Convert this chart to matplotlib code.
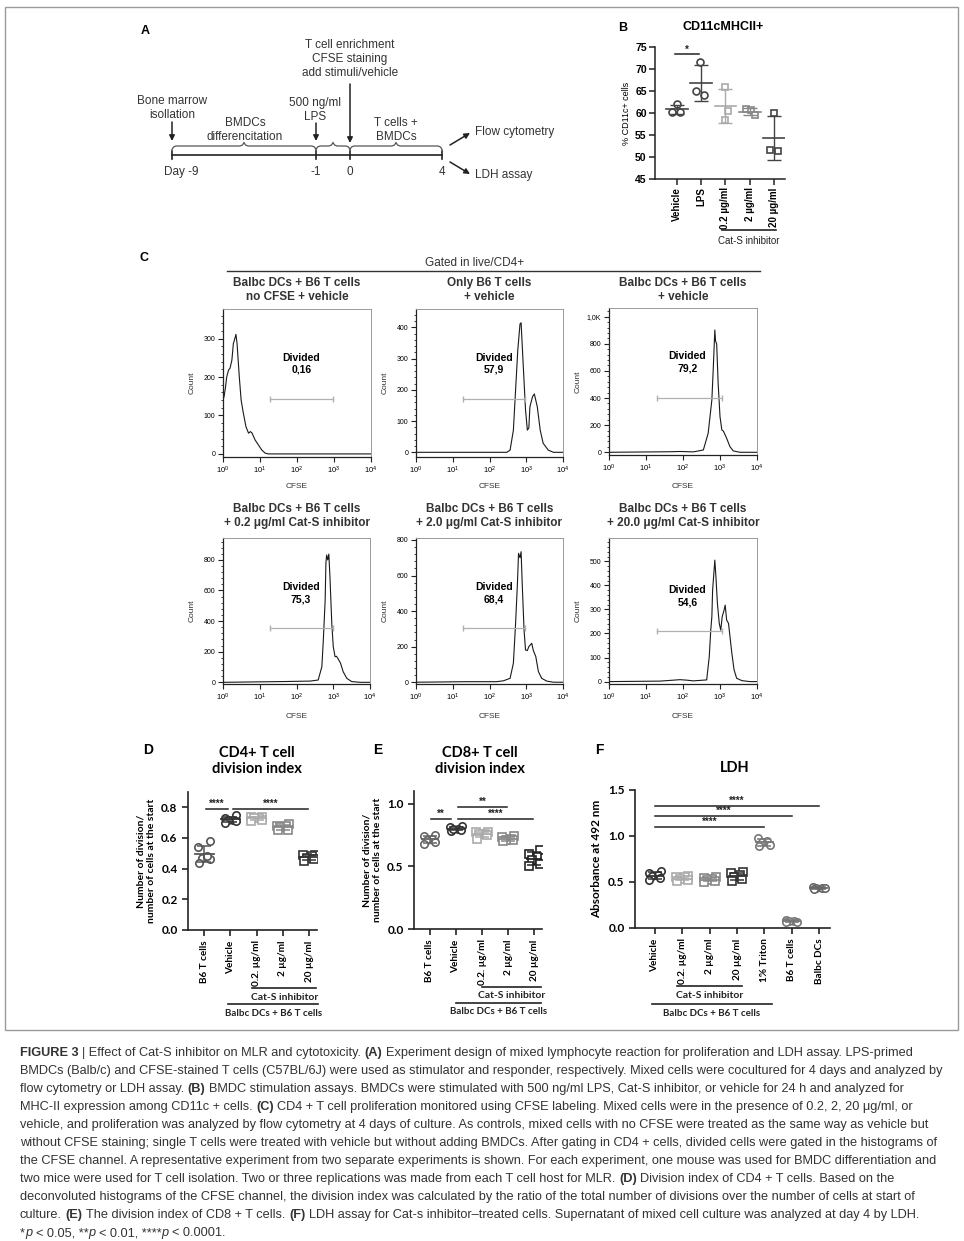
import re
import numpy as np
import matplotlib
matplotlib.use("Agg")
import matplotlib.pyplot as plt
import matplotlib.transforms as mtrans
from matplotlib import font_manager
from matplotlib.ticker import AutoMinorLocator, LogLocator, NullFormatter

plt.rcParams['font.family'] = ['Liberation Sans', 'DejaVu Sans']
plt.rcParams['mathtext.fontset'] = 'custom'
plt.rcParams['mathtext.rm'] = 'Liberation Sans'
plt.rcParams['mathtext.it'] = 'Liberation Sans:italic'
plt.rcParams['mathtext.bf'] = 'Liberation Sans:bold'

W, H = 964, 1241
INK = '#222222'
GP = ['Lato', 'DejaVu Sans']   # GraphPad panels D-F

# ---------------- data ----------------
# A: timeline
day_labels = ['Day -9', '-1', '0', '4']

# B: % CD11c+ cells (3 replicates)
b_groups = ['Vehicle', 'LPS', '0.2 µg/ml', '2 µg/ml', '20 µg/ml']
b_values = [[62.0, 60.3, 60.2],
            [71.5, 65.0, 64.0],
            [66.0, 60.5, 58.3],
            [60.8, 60.7, 59.5],
            [60.0, 51.5, 51.3]]

# C: CFSE histograms (log10 CFSE, count)
h1_log = [0.0, 0.03, 0.07, 0.10, 0.15, 0.19, 0.24, 0.28, 0.32, 0.35, 0.38, 0.44, 0.49,
          0.55, 0.62, 0.69, 0.74, 0.78, 0.87, 0.96, 1.05, 1.14, 1.23, 4.0]
h1_cnt = [140, 150, 175, 200, 218, 223, 244, 287, 300, 311, 287, 201, 140,
          106, 71, 54, 58, 55, 36, 23, 10, 2, 0, 0]
h2_log = [0.0, 2.47, 2.56, 2.65, 2.71, 2.77, 2.83, 2.86, 2.92, 2.98, 3.03, 3.07, 3.10,
          3.17, 3.22, 3.30, 3.38, 3.46, 3.60, 3.74, 4.0]
h2_cnt = [0, 0, 7, 71, 200, 328, 411, 415, 274, 136, 71, 78, 146,
          178, 187, 146, 71, 29, 7, 0, 0]
h3_log = [0.0, 1.65, 1.92, 2.28, 2.55, 2.68, 2.78, 2.82, 2.86, 2.88, 2.91, 2.95, 3.00,
          3.05, 3.09, 3.18, 3.27, 3.36, 3.54, 4.0]
h3_cnt = [0, 4, 6, 3, 17, 140, 386, 631, 902, 820, 800, 509, 263,
          164, 157, 103, 41, 10, 0, 0]
h4_log = [0.0, 1.64, 2.37, 2.59, 2.69, 2.73, 2.78, 2.80, 2.82, 2.85, 2.88, 2.91, 2.96,
          3.00, 3.05, 3.09, 3.14, 3.20, 3.27, 3.37, 3.50, 3.73, 4.0]
h4_cnt = [0, 5, 8, 15, 102, 276, 538, 778, 832, 800, 838, 690, 386,
          233, 167, 170, 150, 124, 69, 26, 5, 0, 0]
h5_log = [0.0, 1.38, 2.19, 2.38, 2.56, 2.65, 2.71, 2.76, 2.79, 2.83, 2.86, 2.89, 2.94,
          2.98, 3.03, 3.07, 3.15, 3.19, 3.26, 3.33, 3.42, 3.56, 3.74, 4.0]
h5_cnt = [0, 3, 3, 8, 22, 107, 331, 556, 725, 700, 734, 556, 294,
          181, 178, 200, 219, 180, 144, 60, 22, 6, 0, 0]
h6_log = [0.0, 1.38, 1.65, 1.92, 2.10, 2.28, 2.46, 2.64, 2.71, 2.75, 2.78, 2.80, 2.84,
          2.86, 2.89, 2.93, 2.98, 3.02, 3.06, 3.11, 3.14, 3.18, 3.23, 3.27, 3.32, 3.38,
          3.45, 3.59, 3.81, 4.0]
h6_cnt = [0, 2, 5, 8, 6, 3, 5, 7, 104, 214, 270, 380, 463,
          505, 436, 325, 242, 214, 270, 297, 318, 256, 242, 187, 118, 49,
          14, 4, 0, 0]
h_titles = ['Balbc DCs + B6 T cells\nno CFSE + vehicle', 'Only B6 T cells\n+ vehicle',
            'Balbc DCs + B6 T cells\n+ vehicle',
            'Balbc DCs + B6 T cells\n+ 0.2 μg/ml Cat-S inhibitor',
            'Balbc DCs + B6 T cells\n+ 2.0 μg/ml Cat-S inhibitor',
            'Balbc DCs + B6 T cells\n+ 20.0 μg/ml Cat-S inhibitor']
h_divided = ['0,16', '57,9', '79,2', '75,3', '68,4', '54,6']
gate_lo = [1.28, 1.29, 1.29, 1.28, 1.29, 1.29]
gate_hi = [2.98, 2.97, 3.06, 2.98, 2.97, 3.05]
gate_y = [143, 171, 403, 357, 307, 210]

# D, E: division index (6 replicates)
de_groups = ['B6 T cells', 'Vehicle', '0.2. µg/ml', '2 µg/ml', '20 µg/ml']
d_values = [[0.58, 0.54, 0.47, 0.46, 0.44, 0.48],
            [0.75, 0.73, 0.72, 0.72, 0.71, 0.70],
            [0.74, 0.74, 0.73, 0.73, 0.72, 0.71],
            [0.69, 0.68, 0.68, 0.67, 0.65, 0.65],
            [0.49, 0.49, 0.48, 0.47, 0.46, 0.45]]
e_values = [[0.75, 0.74, 0.72, 0.71, 0.69, 0.68],
            [0.82, 0.81, 0.80, 0.79, 0.78, 0.80],
            [0.77, 0.77, 0.76, 0.76, 0.72, 0.75],
            [0.74, 0.73, 0.72, 0.71, 0.71, 0.70],
            [0.63, 0.60, 0.57, 0.55, 0.52, 0.50]]

# F: LDH absorbance
f_groups = ['Vehicle', '0.2. µg/ml', '2 µg/ml', '20 µg/ml', '1% Triton', 'B6 T cells', 'Balbc DCs']
f_values = [[0.62, 0.60, 0.58, 0.56, 0.54, 0.52],
            [0.56, 0.55, 0.55, 0.53, 0.52, 0.51],
            [0.55, 0.54, 0.53, 0.52, 0.51, 0.50],
            [0.61, 0.60, 0.58, 0.55, 0.53, 0.51],
            [0.98, 0.95, 0.93, 0.90, 0.89],
            [0.09, 0.08, 0.08, 0.07, 0.07],
            [0.45, 0.44, 0.43, 0.43, 0.42]]

caption = [
    "§FIGURE 3§ | Effect of Cat-S inhibitor on MLR and cytotoxicity. §(A)§ Experiment design of mixed lymphocyte reaction for proliferation and LDH assay. LPS-primed",
    "BMDCs (Balb/c) and CFSE-stained T cells (C57BL/6J) were used as stimulator and responder, respectively. Mixed cells were cocultured for 4 days and analyzed by",
    "flow cytometry or LDH assay. §(B)§ BMDC stimulation assays. BMDCs were stimulated with 500 ng/ml LPS, Cat-S inhibitor, or vehicle for 24 h and analyzed for",
    "MHC-II expression among CD11c + cells. §(C)§ CD4 + T cell proliferation monitored using CFSE labeling. Mixed cells were in the presence of 0.2, 2, 20 μg/ml, or",
    "vehicle, and proliferation was analyzed by flow cytometry at 4 days of culture. As controls, mixed cells with no CFSE were treated as the same way as vehicle but",
    "without CFSE staining; single T cells were treated with vehicle but without adding BMDCs. After gating in CD4 + cells, divided cells were gated in the histograms of",
    "the CFSE channel. A representative experiment from two separate experiments is shown. For each experiment, one mouse was used for BMDC differentiation and",
    "two mice were used for T cell isolation. Two or three replications was made from each T cell host for MLR. §(D)§ Division index of CD4 + T cells. Based on the",
    "deconvoluted histograms of the CFSE channel, the division index was calculated by the ratio of the total number of divisions over the number of cells at start of",
    "culture. §(E)§ The division index of CD8 + T cells. §(F)§ LDH assay for Cat-s inhibitor–treated cells. Supernatant of mixed cell culture was analyzed at day 4 by LDH.",
    "*~p~ < 0.05, **~p~ < 0.01, ****~p~ < 0.0001.",
]

# ---------------- helpers ----------------
fig = plt.figure(figsize=(W / 100, H / 100), dpi=100)


def ax_px(l, t, r, b):
    return fig.add_axes([l / W, 1 - b / H, (r - l) / W, (b - t) / H])


def ftext(x, y, s, **kw):
    return fig.text(x / W, 1 - y / H, s, **kw)


def below(ax, x0, x1, y, text, ty, fam, size):
    tr = mtrans.blended_transform_factory(ax.transData, fig.transFigure)
    ax.plot([x0, x1], [1 - y / H] * 2, color=INK, lw=1.2, transform=tr, clip_on=False)
    ax.text((x0 + x1) / 2, 1 - ty / H, text, transform=tr, ha='center', va='center',
            fontsize=size, family=fam, weight='bold' if fam == GP else 'normal', color=INK)


def dot_panel(ax, values, colors, markers, ms, halfw, cap):
    spread = [-0.2, 0.2, -0.1, 0.1, -0.22, 0.22]
    for i, vals in enumerate(values):
        v = np.asarray(vals)
        order = np.argsort(v)
        xs = np.empty(len(v))
        for k, j in enumerate(order):
            xs[j] = i + spread[k % len(spread)]
        ax.plot(xs, v, linestyle='none', marker=markers[i], ms=ms, mfc='white',
                mec=colors[i], mew=1.2, zorder=3)
        m, s = v.mean(), v.std(ddof=1)
        ax.errorbar(i, m, yerr=s, color=colors[i], lw=1.1, capsize=cap, capthick=1.1, zorder=4)
        ax.plot([i - halfw, i + halfw], [m, m], color=colors[i], lw=1.3, zorder=4)
    for sp in ['top', 'right']:
        ax.spines[sp].set_visible(False)
    for sp in ['left', 'bottom']:
        ax.spines[sp].set_linewidth(1.2)
        ax.spines[sp].set_color(INK)
    ax.tick_params(width=1.2, length=4, color=INK)


def sig(ax, x0, x1, y, stars, size=7):
    ax.plot([x0, x1], [y, y], color=INK, lw=1.1, clip_on=False)
    ax.text((x0 + x1) / 2, y, stars, ha='center', va='bottom', fontsize=size,
            weight='bold', color=INK)


# ---------------- frame ----------------
fig.add_artist(plt.Rectangle((5 / W, 1 - 1030 / H), 953 / W, 1023 / H, fill=False,
                             edgecolor='#9a9a9a', lw=1.0, transform=fig.transFigure))

# ---------------- A ----------------
axA = ax_px(100, 20, 590, 200)
axA.set_xlim(100, 590)
axA.set_ylim(200, 20)
axA.axis('off')
ftext(141, 31, 'A', fontsize=9, weight='bold', va='center')
day_x = [172, 316, 350, 442]
lab_x = [181, 316, 350, 442]
tl = 155
axA.plot([day_x[0], day_x[-1]], [tl, tl], color=INK, lw=1.2)
for x, lx, lab in zip(day_x, lab_x, day_labels):
    axA.plot([x, x], [tl - 4, tl + 4], color=INK, lw=1.2)
    axA.text(lx, 172, lab, ha='center', va='center', fontsize=8.5, color='#333')


def brace(x0, x1, y, h=3.5):
    m = (x0 + x1) / 2
    xs = [x0, x0 + 1.5, x0 + 4, m - 4, m - 1.5, m, m + 1.5, m + 4, x1 - 4, x1 - 1.5, x1]
    ys = [y + h, y + 1, y, y, y - 1, y - h, y - 1, y, y, y + 1, y + h]
    axA.plot(xs, ys, color='#555', lw=0.9)


for x0, x1 in zip(day_x[:-1], day_x[1:]):
    brace(x0, x1, 146)

arr = dict(arrowstyle='-|>', color=INK, lw=1.1, mutation_scale=8, shrinkA=0, shrinkB=0)
axA.annotate('', xy=(172, 141), xytext=(172, 122), arrowprops=arr)
axA.annotate('', xy=(316, 141), xytext=(316, 123), arrowprops=arr)
axA.annotate('', xy=(350, 143), xytext=(350, 84), arrowprops=arr)
axA.annotate('', xy=(470, 133), xytext=(450, 145), arrowprops=arr)
axA.annotate('', xy=(470, 174), xytext=(450, 162), arrowprops=arr)
txtA = dict(ha='center', va='center', fontsize=8.5, color='#333', linespacing=1.25)
axA.text(350, 59, 'T cell enrichment\nCFSE staining\nadd stimuli/vehicle', **txtA)
axA.text(315, 110, '500 ng/ml\nLPS', **txtA)
axA.text(172, 108, 'Bone marrow\nisollation', **txtA)
axA.text(245, 130, 'BMDCs\ndifferencitation', **txtA)
axA.text(396, 130, 'T cells +\nBMDCs', **txtA)
axA.text(475, 132, 'Flow cytometry', ha='left', va='center', fontsize=8.5, color='#333')
axA.text(475, 175, 'LDH assay', ha='left', va='center', fontsize=8.5, color='#333')

# ---------------- B ----------------
axB = ax_px(655, 47, 785, 179)
b_cols = ['#444444', '#444444', '#aaaaaa', '#888888', '#444444']
b_mk = ['o', 'o', 's', 's', 's']
b_off = [[0, -0.2, 0.14], [-0.04, -0.2, 0.12], [0, 0.1, 0], [-0.15, 0.05, 0.2], [0, -0.15, 0.15]]
for i, vals in enumerate(b_values):
    v = np.asarray(vals)
    axB.plot(i + np.asarray(b_off[i]), v, linestyle='none', marker=b_mk[i], ms=5,
             mfc='white', mec=b_cols[i], mew=1.2, zorder=3)
    m, s = v.mean(), v.std(ddof=1)
    axB.errorbar(i, m, yerr=s, color=b_cols[i], lw=1.0, capsize=5, capthick=1.0, zorder=4)
    axB.plot([i - 0.45, i + 0.45], [m, m], color=b_cols[i], lw=1.2, zorder=4)
axB.set_xlim(-0.9, 4.45)
axB.set_ylim(45, 75)
axB.set_yticks(range(45, 76, 5))
axB.set_xticks(range(len(b_groups)))
axB.set_xticklabels(b_groups, rotation=90, fontsize=7, weight='bold')
for lbl in axB.get_yticklabels():
    lbl.set_fontsize(7.5)
    lbl.set_weight('bold')
for sp in ['top', 'right']:
    axB.spines[sp].set_visible(False)
for sp in ['left', 'bottom']:
    axB.spines[sp].set_linewidth(1.1)
    axB.spines[sp].set_color(INK)
axB.tick_params(width=1.1, length=4, color=INK, pad=2)
axB.set_ylabel('% CD11c+ cells', fontsize=6.5, labelpad=3)
sig(axB, -0.08, 0.9, 73.3, '*', size=7)
below(axB, 1.85, 4.1, 230, 'Cat-S inhibitor', 241, 'Liberation Sans', 7)
ftext(618, 28, 'B', fontsize=9, weight='bold', va='center')
ftext(723, 27, 'CD11cMHCII+', fontsize=9, weight='bold', ha='center', va='center')

# ---------------- C ----------------
ftext(140, 258, 'C', fontsize=9, weight='bold', va='center')
ftext(475, 263, 'Gated in live/CD4+', fontsize=8.5, ha='center', va='center', color='#333')
fig.add_artist(plt.Line2D([227 / W, 760 / W], [1 - 271 / H] * 2, color='#333', lw=1.0,
                          transform=fig.transFigure))

h_rects = [(223, 309, 371, 457), (416, 309, 563, 457), (609, 308, 757, 455),
           (223, 538, 370, 684), (416, 538, 563, 684), (609, 538, 757, 684)]
h_ylims = [(-8, 377), (-15, 459), (-20, 1064), (-11, 943), (-10, 811), (-10, 597)]
h_yticks = [[0, 100, 200, 300], [0, 100, 200, 300, 400], [0, 200, 400, 600, 800, 1000],
            [0, 200, 400, 600, 800], [0, 200, 400, 600, 800], [0, 100, 200, 300, 400, 500]]
h_logs = [h1_log, h2_log, h3_log, h4_log, h5_log, h6_log]
h_cnts = [h1_cnt, h2_cnt, h3_cnt, h4_cnt, h5_cnt, h6_cnt]
h_txty = [0.63, 0.63, 0.63, 0.62, 0.62, 0.60]

for k in range(6):
    l, t, r, b = h_rects[k]
    ax = ax_px(l, t, r, b)
    ax.plot(np.power(10.0, h_logs[k]), h_cnts[k], color='#1a1a1a', lw=0.8)
    ax.plot(np.power(10.0, [gate_lo[k], gate_hi[k]]), [gate_y[k]] * 2, color='#b0b0b0',
            lw=0.9, marker='|', ms=5, mec='#b0b0b0')
    ax.set_xscale('log')
    ax.set_xlim(1, 1e4)
    ax.set_ylim(h_ylims[k])
    ax.set_xticks([1, 10, 100, 1000, 10000])
    ax.set_xticklabels([r'$10^{%d}$' % e for e in range(5)], fontsize=5.5)
    ax.xaxis.set_minor_locator(LogLocator(base=10, subs=np.arange(2, 10)))
    ax.xaxis.set_minor_formatter(NullFormatter())
    ax.set_yticks(h_yticks[k])
    ax.set_yticklabels(['1,0K' if v == 1000 else str(v) for v in h_yticks[k]], fontsize=5)
    ax.yaxis.set_minor_locator(AutoMinorLocator(5))
    ax.tick_params(which='major', length=3.5, width=0.8, pad=2, color=INK)
    ax.tick_params(which='minor', length=1.8, width=0.6, color=INK)
    for sp in ['top', 'right']:
        ax.spines[sp].set_color('#9a9a9a')
        ax.spines[sp].set_linewidth(0.7)
    for sp in ['left', 'bottom']:
        ax.spines[sp].set_color(INK)
        ax.spines[sp].set_linewidth(0.9)
    ax.text(0.53, h_txty[k], 'Divided\n' + h_divided[k], transform=ax.transAxes,
            ha='center', va='center', fontsize=7.5, weight='bold', linespacing=1.3)
    cx = (l + r) / 2
    ty = 290 if k < 3 else 516
    ftext(cx, ty, h_titles[k], fontsize=8.5, weight='bold', ha='center', va='center',
          color='#333', linespacing=1.15)
    ftext(cx, 487 if k < 3 else 716, 'CFSE', fontsize=6, ha='center', va='center', color='#333')
    ftext(l - 31, (t + b) / 2, 'Count', fontsize=6, rotation=90, ha='center', va='center',
          color='#333')

# ---------------- D ----------------
de_cols_d = ['#555555', '#333333', '#aaaaaa', '#888888', '#333333']
de_cols_e = ['#666666', '#333333', '#aaaaaa', '#888888', '#222222']
de_mk = ['o', 'o', 's', 's', 's']


def gp_labels(ax, labels, ysize=8.5, xsize=7.2):
    ax.set_xticks(range(len(labels)))
    ax.set_xticklabels(labels, rotation=90)
    for lbl in ax.get_xticklabels():
        lbl.set_family(GP)
        lbl.set_weight('bold')
        lbl.set_fontsize(xsize)
    for lbl in ax.get_yticklabels():
        lbl.set_family(GP)
        lbl.set_weight('bold')
        lbl.set_fontsize(ysize)


axD = ax_px(188, 792, 317, 930)
dot_panel(axD, d_values, de_cols_d, de_mk, 5.3, 0.37, 5)
axD.set_xlim(-0.62, 4.3)
axD.set_ylim(0, 0.9)
axD.set_yticks([0.0, 0.2, 0.4, 0.6, 0.8])
axD.set_yticklabels(['0.0', '0.2', '0.4', '0.6', '0.8'])
gp_labels(axD, de_groups)
axD.set_ylabel('Number of division/\nnumber of cells at the start', family=GP, weight='bold',
               fontsize=7.5, labelpad=4, linespacing=1.1)
sig(axD, 0.06, 0.9, 0.79, '****')
sig(axD, 1.1, 3.95, 0.79, '****')
below(axD, 1.83, 4.27, 988, 'Cat-S inhibitor', 997, GP, 7.5)
below(axD, 0.92, 4.33, 1004, 'Balbc DCs + B6 T cells', 1013, GP, 7)
ftext(143, 750, 'D', fontsize=10, weight='bold', va='center')
ftext(257, 761, 'CD4+ T cell\ndivision index', family=GP, fontsize=10.5, weight='bold',
      ha='center', va='center', linespacing=1.1)

# ---------------- E ----------------
axE = ax_px(414, 791, 542, 929)
dot_panel(axE, e_values, de_cols_e, de_mk, 5.3, 0.3, 5)
axE.set_xlim(-0.6, 4.29)
axE.set_ylim(0, 1.1)
axE.set_yticks([0.0, 0.5, 1.0])
axE.set_yticklabels(['0.0', '0.5', '1.0'])
gp_labels(axE, de_groups)
axE.set_ylabel('Number of division/\nnumber of cells at the start', family=GP, weight='bold',
               fontsize=7.5, labelpad=4, linespacing=1.1)
sig(axE, 0.05, 0.8, 0.88, '**')
sig(axE, 1.1, 2.95, 0.973, '**')
sig(axE, 1.1, 3.95, 0.88, '****')
below(axE, 2.0, 4.26, 987, 'Cat-S inhibitor', 996, GP, 7.5)
below(axE, 1.02, 4.26, 1003, 'Balbc DCs + B6 T cells', 1012, GP, 7)
ftext(373, 750, 'E', fontsize=10, weight='bold', va='center')
ftext(480, 761, 'CD8+ T cell\ndivision index', family=GP, fontsize=10.5, weight='bold',
      ha='center', va='center', linespacing=1.1)

# ---------------- F ----------------
axF = ax_px(635, 790, 830, 928)
f_cols = ['#333333', '#aaaaaa', '#888888', '#333333', '#777777', '#777777', '#666666']
f_mk = ['o', 's', 's', 's', 'o', 'o', 'o']
dot_panel(axF, f_values, f_cols, f_mk, 5.3, 0.3, 5)
axF.set_xlim(-0.73, 6.4)
axF.set_ylim(0, 1.5)
axF.set_yticks([0.0, 0.5, 1.0, 1.5])
axF.set_yticklabels(['0.0', '0.5', '1.0', '1.5'])
gp_labels(axF, f_groups)
axF.set_ylabel('Absorbance at 492 nm', family=GP, weight='bold', fontsize=8.5, labelpad=4)
sig(axF, 0, 4, 1.098, '****')
sig(axF, 0, 5, 1.214, '****')
sig(axF, 0, 6, 1.326, '****')
below(axF, 0.8, 3.2, 986, 'Cat-S inhibitor', 995, GP, 7.5)
below(axF, -0.12, 4.28, 1004, 'Balbc DCs + B6 T cells', 1014, GP, 7)
ftext(595, 750, 'F', fontsize=10, weight='bold', va='center')
ftext(735, 768, 'LDH', family=GP, fontsize=10.5, weight='bold', ha='center', va='center')

# ---------------- caption ----------------
names = {f.name for f in font_manager.fontManager.ttflist}
if 'Liberation Sans Narrow' in names:
    cap_fam, cap_size = 'Liberation Sans Narrow', 10.3
else:
    cap_fam, cap_size = 'Liberation Sans', 9.15
renderer = fig.canvas.get_renderer()


def width_of(s, **kw):
    t = fig.text(0, 0, s, fontsize=cap_size, family=cap_fam, **kw)
    w = t.get_window_extent(renderer).width
    t.remove()
    return w


space_w = width_of('x x') - width_of('xx')
for n, line in enumerate(caption):
    x = 20.0
    y = 1056 + 18 * n
    for tok in re.split(r'(§[^§]+§|~[^~]+~)', line):
        if not tok:
            continue
        kw = {}
        if tok.startswith('§'):
            tok, kw = tok.strip('§'), {'weight': 'bold'}
        elif tok.startswith('~'):
            tok, kw = tok.strip('~'), {'style': 'italic'}
        lead = len(tok) - len(tok.lstrip(' '))
        trail = len(tok) - len(tok.rstrip(' '))
        core = tok.strip(' ')
        x += lead * space_w
        if core:
            t = ftext(x, y, core, fontsize=cap_size, family=cap_fam, va='baseline',
                      ha='left', color='#333', **kw)
            x += t.get_window_extent(renderer).width
        x += trail * space_w

fig.savefig('out.png', dpi=100)
